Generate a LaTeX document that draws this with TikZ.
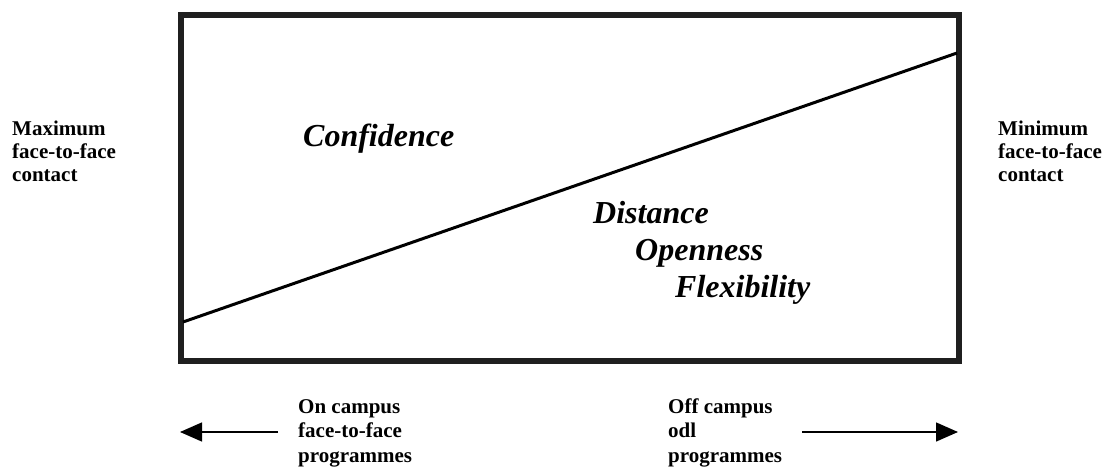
\documentclass[tikz,border=0pt]{standalone}
\usepackage{fontspec}
\setmainfont{Liberation Serif}
\usetikzlibrary{arrows.meta}
\tikzset{
  frame/.style={line width=5.5pt, draw=black!88},
  slope/.style={line width=3pt, draw=black},
  sidelabel/.style={anchor=base west, inner sep=0pt, align=left,
    font=\fontsize{21}{23}\selectfont\bfseries},
  botlabel/.style={anchor=base west, inner sep=0pt, align=left,
    font=\fontsize{21}{24.5}\selectfont\bfseries},
  keyword/.style={anchor=base west, inner sep=0pt,
    font=\fontsize{32}{38}\selectfont\bfseries\itshape},
  dirarrow/.style={line width=1.4pt, -{Triangle[length=22pt,width=19pt]}}
}
\begin{document}
\begin{tikzpicture}[x=1pt,y=-1pt]
\useasboundingbox (0,0) rectangle (1106,466);
% frame
\coordinate (tl) at (181,15);
\coordinate (br) at (959,361);
\draw[frame] (tl) rectangle (br);
% sloped line
\coordinate (lowleft) at (183,322);
\coordinate (highright) at (957,53);
\draw[slope] (lowleft) -- (highright);
% keywords
\node[keyword] (confidence) at (303,146) {Confidence};
\node[keyword] (distance) at (593,223) {Distance};
\node[keyword] (openness) at (635,260) {Openness};
\node[keyword] (flexibility) at (675,297) {Flexibility};
% side labels (anchor is the baseline of the last line)
\node[sidelabel] (maxlabel) at (12,181) {Maximum\\face-to-face\\contact};
\node[sidelabel] (minlabel) at (998,181) {Minimum\\face-to-face\\contact};
% bottom labels
\node[botlabel] (onlabel) at (298,462) {On campus\\face-to-face\\programmes};
\node[botlabel] (offlabel) at (668,462) {Off campus\\odl\\programmes};
% arrows
\coordinate (lefttail) at (278,432);
\coordinate (lefttip) at (180,432);
\coordinate (righttail) at (802,432);
\coordinate (righttip) at (958,432);
\draw[dirarrow] (lefttail) -- (lefttip);
\draw[dirarrow] (righttail) -- (righttip);
\end{tikzpicture}
\end{document}
